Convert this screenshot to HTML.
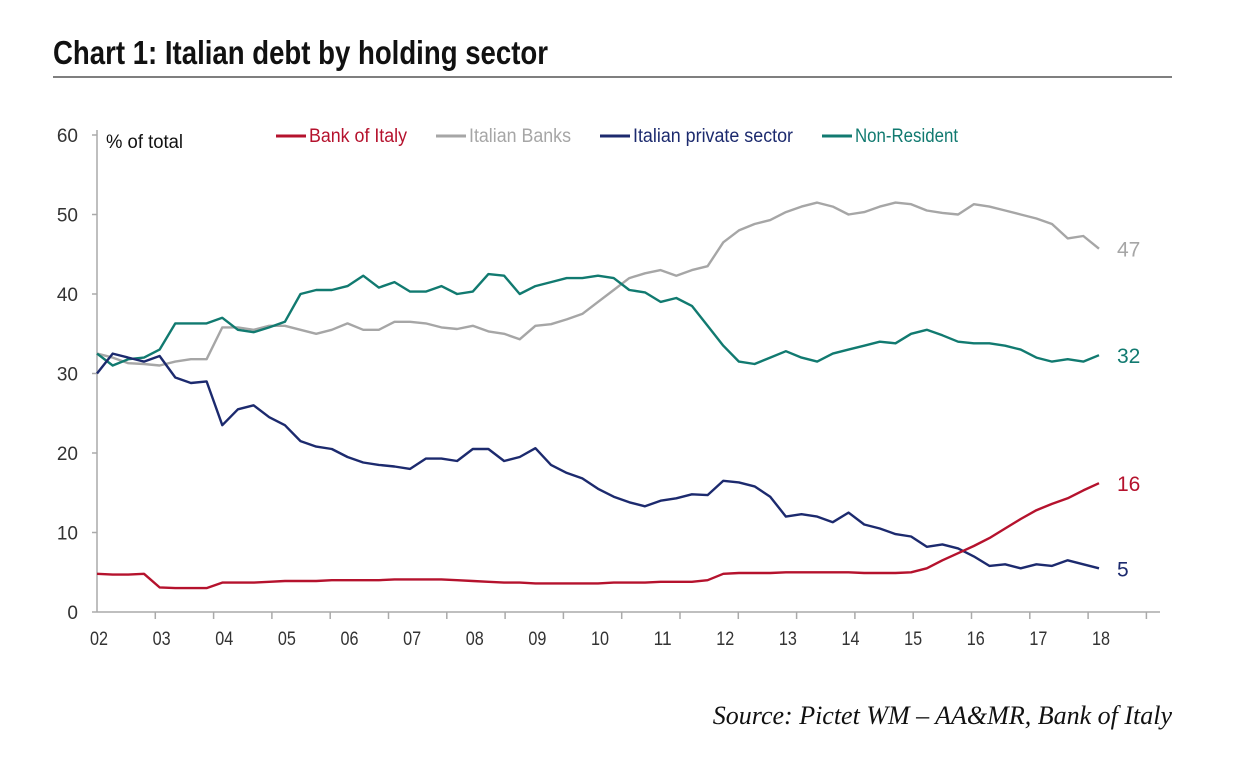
<!DOCTYPE html>
<html><head><meta charset="utf-8"><style>
body{margin:0;background:#fff;width:1249px;height:756px;overflow:hidden;font-family:"Liberation Sans",sans-serif}
</style></head><body>
<svg width="1249" height="756" xmlns="http://www.w3.org/2000/svg">
<text x="53" y="64" font-family="Liberation Sans, sans-serif" font-weight="bold" font-size="33" fill="#111" textLength="495" lengthAdjust="spacingAndGlyphs">Chart 1: Italian debt by holding sector</text>
<line x1="53" y1="77" x2="1172" y2="77" stroke="#333" stroke-width="1.2"/>
<g id="axes"></g>
<g id="series"></g>
<text x="106" y="148" font-size="19" fill="#111" textLength="77" lengthAdjust="spacingAndGlyphs">% of total</text>
<g font-size="19">
<line x1="276" y1="136" x2="306" y2="136" stroke="#b5122d" stroke-width="3"/><text x="309" y="142" fill="#b5122d" textLength="98" lengthAdjust="spacingAndGlyphs">Bank of Italy</text>
<line x1="436" y1="136" x2="466" y2="136" stroke="#a6a6a6" stroke-width="3"/><text x="469" y="142" fill="#a6a6a6" textLength="102" lengthAdjust="spacingAndGlyphs">Italian Banks</text>
<line x1="600" y1="136" x2="630" y2="136" stroke="#1c2a6e" stroke-width="3"/><text x="633" y="142" fill="#1c2a6e" textLength="160" lengthAdjust="spacingAndGlyphs">Italian private sector</text>
<line x1="822" y1="136" x2="852" y2="136" stroke="#117a70" stroke-width="3"/><text x="855" y="142" fill="#117a70" textLength="103" lengthAdjust="spacingAndGlyphs">Non-Resident</text>
</g>
<text x="1172" y="724" text-anchor="end" font-family="Liberation Serif, serif" font-style="italic" font-size="26" fill="#111">Source: Pictet WM – AA&amp;MR, Bank of Italy</text>
</svg>
<script>
const xLabels=["02","03","04","05","06","07","08","09","10","11","12","13","14","15","16","17","18"];
const yTicks=[0,10,20,30,40,50,60];
const bankOfItaly=[4.8,4.7,4.7,4.8,3.1,3.0,3.0,3.0,3.7,3.7,3.7,3.8,3.9,3.9,3.9,4.0,4.0,4.0,4.0,4.1,4.1,4.1,4.1,4.0,3.9,3.8,3.7,3.7,3.6,3.6,3.6,3.6,3.6,3.7,3.7,3.7,3.8,3.8,3.8,4.0,4.8,4.9,4.9,4.9,5.0,5.0,5.0,5.0,5.0,4.9,4.9,4.9,5.0,5.5,6.5,7.4,8.3,9.3,10.5,11.7,12.8,13.6,14.3,15.3,16.2];
const italianBanks=[32.5,32,31.3,31.2,31,31.5,31.8,31.8,35.8,35.8,35.5,36,36,35.5,35,35.5,36.3,35.5,35.5,36.5,36.5,36.3,35.8,35.6,36,35.3,35,34.3,36,36.2,36.8,37.5,39,40.5,42,42.6,43,42.3,43,43.5,46.5,48,48.8,49.3,50.3,51,51.5,51,50,50.3,51,51.5,51.3,50.5,50.2,50,51.3,51,50.5,50,49.5,48.8,47,47.3,45.7];
const privateSector=[30,32.5,32,31.5,32.2,29.5,28.8,29,23.5,25.5,26,24.5,23.5,21.5,20.8,20.5,19.5,18.8,18.5,18.3,18,19.3,19.3,19,20.5,20.5,19,19.5,20.6,18.5,17.5,16.8,15.5,14.5,13.8,13.3,14,14.3,14.8,14.7,16.5,16.3,15.8,14.5,12,12.3,12,11.3,12.5,11,10.5,9.8,9.5,8.2,8.5,8,7,5.8,6,5.5,6,5.8,6.5,6,5.5];
const nonResident=[32.5,31,31.8,32,33,36.3,36.3,36.3,37,35.5,35.2,35.8,36.5,40,40.5,40.5,41,42.3,40.8,41.5,40.3,40.3,41,40,40.3,42.5,42.3,40,41,41.5,42,42,42.3,42,40.5,40.2,39,39.5,38.5,36,33.5,31.5,31.2,32,32.8,32,31.5,32.5,33,33.5,34,33.8,35,35.5,34.8,34,33.8,33.8,33.5,33,32,31.5,31.8,31.5,32.3];
const endLabels=["16","47","5","32"];
const NS="http://www.w3.org/2000/svg";
const X0=97,X1=1099,Y0=612,YT=135;
const xs=y=>X0+(y-2002)/16*(X1-X0);
const ys=v=>Y0-v/60*(Y0-YT);
function mk(tag,attrs,parent){const e=document.createElementNS(NS,tag);for(const k in attrs)e.setAttribute(k,attrs[k]);parent.appendChild(e);return e;}
const ax=document.getElementById('axes');
let e=mk('line',{x1:X0,y1:130,x2:X0,y2:Y0,stroke:'#aaa','stroke-width':1.5},ax);


e=mk('line',{x1:X0,y1:Y0,x2:1160,y2:Y0,stroke:'#aaa','stroke-width':1.5},ax);


yTicks.forEach(v=>{
  const t=mk('line',{x1:X0-5,y1:ys(v),x2:X0,y2:ys(v),stroke:'#aaa','stroke-width':1.5},ax);
  
  
  const l=mk('text',{x:78,y:ys(v)+7,'text-anchor':'end','font-size':19,fill:'#333'},ax);
  l.textContent=v;
  
  
});
for(let x=X0+58.3;x<=1162;x+=58.3){
  const t=mk('line',{x1:x,y1:Y0,x2:x,y2:Y0+7,stroke:'#aaa','stroke-width':1.5},ax);
  
  
}
xLabels.forEach((s,i)=>{
  const l=mk('text',{x:xs(2002+i)+2,y:645,'text-anchor':'middle','font-size':19,fill:'#333',textLength:18,lengthAdjust:'spacingAndGlyphs'},ax);
  l.textContent=s;
  
  
});
const sg=document.getElementById('series');
const defs=[[italianBanks,'#a6a6a6','line-italian-banks',endLabels[1]],[nonResident,'#117a70','line-non-resident',endLabels[3]],[privateSector,'#1c2a6e','line-private-sector',endLabels[2]],[bankOfItaly,'#b5122d','line-bank-of-italy',endLabels[0]]];
defs.forEach(([d,c,n,lbl])=>{
  const p=d.map((v,i)=>xs(2002+i*0.25).toFixed(1)+','+ys(v).toFixed(1)).join(' ');
  const pl=mk('polyline',{points:p,fill:'none',stroke:c,'stroke-width':2.4,'stroke-linejoin':'round'},sg);
  
  
  const last=d[d.length-1];
  const t=mk('text',{x:X1+18,y:ys(last)+8,'font-size':21,fill:c},sg);
  t.textContent=lbl;
  
  
});
</script>
</body></html>
